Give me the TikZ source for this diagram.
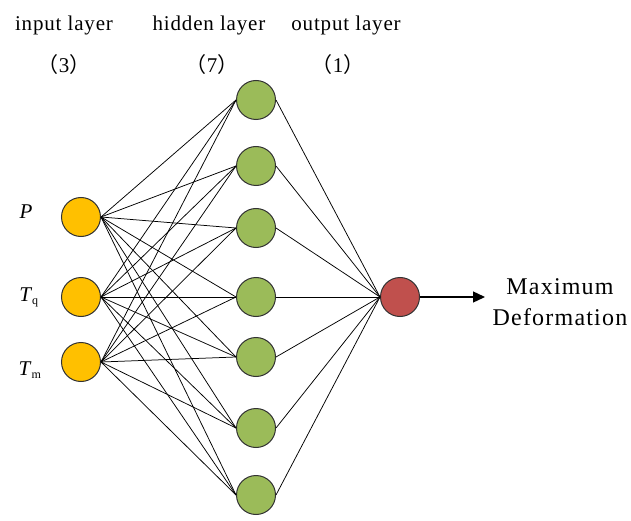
\documentclass[tikz,border=0pt]{standalone}
\usepackage{fontspec}
\setmainfont{Liberation Serif}
\newfontfamily\cjkfont{Noto Sans CJK SC}
\usetikzlibrary{arrows.meta}
\definecolor{inc}{HTML}{FFC000}
\definecolor{hidc}{HTML}{9BBB59}
\definecolor{outc}{HTML}{C0504D}
\newcommand{\fwp}[1]{{\cjkfont （}#1{\cjkfont ）}}
\tikzset{
  neuron/.style={circle, draw=black!80, line width=1pt, minimum size=39pt, inner sep=0pt},
  innode/.style={neuron, fill=inc},
  hidnode/.style={neuron, fill=hidc},
  outnode/.style={neuron, fill=outc},
  conn/.style={black, line width=0.75pt},
  head/.style={font=\fontsize{21}{24}\selectfont\addfontfeature{LetterSpace=4}, inner sep=0pt},
  lab/.style={font=\fontsize{21}{24}\selectfont, inner sep=0pt}
}
\begin{document}
\begin{tikzpicture}[x=1pt,y=-1pt]
\useasboundingbox (0,0) rectangle (631,521);
\node[head] (t1) at (64,25) {input layer};
\node[head] (t2) at (209,25) {hidden layer};
\node[head] (t3) at (346,25) {output layer};
\node[head] (n1) at (64,65) {\fwp{3}};
\node[head] (n2) at (212,65) {\fwp{7}};
\node[head] (n3) at (338,65) {\fwp{1}};

\node[innode] (i1) at (81,217) {};
\node[innode] (i2) at (81,297) {};
\node[innode] (i3) at (81,362) {};

\node[hidnode] (h1) at (256,100) {};
\node[hidnode] (h2) at (256,166) {};
\node[hidnode] (h3) at (256,228) {};
\node[hidnode] (h4) at (256,297) {};
\node[hidnode] (h5) at (256,357) {};
\node[hidnode] (h6) at (256,428) {};
\node[hidnode] (h7) at (256,495) {};

\node[outnode] (o) at (400,297) {};

\node[lab] (lp) at (26,212) {\textit{P}};
\node[lab] (lq) at (29,297) {\textit{T}\textsubscript{\fontsize{12}{12}\selectfont q}};
\node[lab] (lm) at (30,370) {\textit{T}\textsubscript{\fontsize{12}{12}\selectfont m}};

\foreach \i in {1,2,3}{
  \foreach \h in {1,...,7}{
    \draw[conn] (i\i.east) -- (h\h.west);
  }
}
\foreach \h in {1,...,7}{
  \draw[conn] (h\h.east) -- (o.west);
}
\coordinate (ae) at (485,297);
\draw[line width=1.3pt, -{Triangle[length=12pt,width=11pt]}] (o.east) -- (ae);
\node[lab, align=center, font=\fontsize{24}{31}\selectfont\addfontfeature{LetterSpace=5}] (out) at (560,302) {Maximum\\Deformation};
\end{tikzpicture}
\end{document}
